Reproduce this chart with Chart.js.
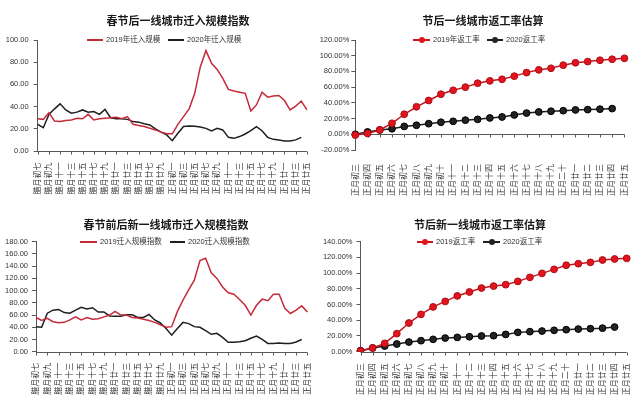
<!DOCTYPE html>
<html>
<head>
<meta charset="utf-8">
<script src="https://cdn.jsdelivr.net/npm/chart.js@4"></script>
<style>
  html, body { margin: 0; padding: 0; background: #fff; }
  #wrap { position: relative; width: 640px; height: 399px; overflow: hidden; }
  .panel { position: absolute; }
  .panel canvas { position: absolute; left: 0; top: 0; }
  .title { position: absolute; transform: translateX(-50%); white-space: nowrap;
           font: bold 11px/12px "Noto Sans CJK SC", sans-serif; color: #1a1a1a; z-index: 2; }
  .lg { position: absolute; display: flex; align-items: center; white-space: nowrap; height: 10px;
        font: 7.5px/10px "Liberation Sans", "Noto Sans CJK SC", sans-serif; color: #333; z-index: 2; }
  .sw { position: relative; display: inline-block; height: 2px; margin-right: 3px; }
  .sw i { position: absolute; left: 50%; top: 50%; width: 6px; height: 6px; margin: -3px 0 0 -3px; border-radius: 50%; }
</style>
</head>
<body>
<div id="wrap">
  <div class="panel" style="left:0;top:0;width:320px;height:200px">
    <div class="title" style="left:178px;top:14px">春节后一线城市迁入规模指数</div>
    <div class="lg" style="left:87px;top:35px"><span class="sw" style="width:16px;background:#c62a3a"></span>2019年迁入规模</div>
    <div class="lg" style="left:168px;top:35px"><span class="sw" style="width:16px;background:#1e1e1e"></span>2020年迁入规模</div>
    <canvas id="chart-tier1-in" width="320" height="200"></canvas>
  </div>
  <div class="panel" style="left:320px;top:0;width:320px;height:200px">
    <div class="title" style="left:163px;top:14px">节后一线城市返工率估算</div>
    <div class="lg" style="left:93px;top:35px"><span class="sw" style="width:17px;background:#c8141c"><i style="background:#e3141d"></i></span>2019年返工率</div>
    <div class="lg" style="left:167px;top:35px"><span class="sw" style="width:16px;background:#1e1e1e"><i style="background:#222"></i></span>2020返工率</div>
    <canvas id="chart-tier1-work" width="320" height="200"></canvas>
  </div>
  <div class="panel" style="left:0;top:200px;width:320px;height:199px">
    <div class="title" style="left:166px;top:18px">春节前后新一线城市迁入规模指数</div>
    <div class="lg" style="left:80px;top:37px"><span class="sw" style="width:17px;background:#c62a3a"></span>2019迁入规模指数</div>
    <div class="lg" style="left:170px;top:37px"><span class="sw" style="width:15px;background:#1e1e1e"></span>2020迁入规模指数</div>
    <canvas id="chart-new1-in" width="320" height="199"></canvas>
  </div>
  <div class="panel" style="left:320px;top:200px;width:320px;height:199px">
    <div class="title" style="left:160px;top:18px">节后新一线城市返工率估算</div>
    <div class="lg" style="left:97px;top:37px"><span class="sw" style="width:16px;background:#c8141c"><i style="background:#e3141d"></i></span>2019返工率</div>
    <div class="lg" style="left:163px;top:37px"><span class="sw" style="width:17px;background:#1e1e1e"><i style="background:#222"></i></span>2020返工率</div>
    <canvas id="chart-new1-work" width="320" height="199"></canvas>
  </div>
</div>

<script>
// ── Data ──────────────────────────────────────────────────────
// 腊月初七 .. 正月廿五 (49 days), labels shown every other day
const lunarDays = [
  '腊月初七', '腊月初八', '腊月初九', '腊月初十', '腊月十一', '腊月十二', '腊月十三', '腊月十四',
  '腊月十五', '腊月十六', '腊月十七', '腊月十八', '腊月十九', '腊月二十', '腊月廿一', '腊月廿二',
  '腊月廿三', '腊月廿四', '腊月廿五', '腊月廿六', '腊月廿七', '腊月廿八', '腊月廿九', '腊月三十',
  '正月初一', '正月初二', '正月初三', '正月初四', '正月初五', '正月初六', '正月初七', '正月初八',
  '正月初九', '正月初十', '正月十一', '正月十二', '正月十三', '正月十四', '正月十五', '正月十六',
  '正月十七', '正月十八', '正月十九', '正月二十', '正月廿一', '正月廿二', '正月廿三', '正月廿四',
  '正月廿五',
];

const tier1In2019 = [
  29, 28.5, 34.5, 27, 26.5, 27.5, 28, 29.5, 29, 33, 28, 29, 29.5, 30, 30.5, 29, 31, 24, 23, 22, 20.5, 19, 17, 15.5,
  15.5, 24, 31, 38, 52, 76, 90.4, 79, 73.5, 65.5, 55.5, 54, 53, 52, 36, 41.5, 53, 48.5, 49.5, 50, 45.5, 37, 40.5, 45, 37,
];
const tier1In2020 = [
  24, 21, 33, 38, 42.5, 37, 34, 35, 37, 35, 35.5, 33, 37.5, 30, 29, 29, 28.5, 26.5, 26, 24.5, 23.5, 20, 17, 14.5,
  9.3, 16, 22, 22.5, 22.2, 21.6, 20.4, 18, 20.4, 19, 12.3, 11.4, 13, 15.3, 18.3, 22, 18.3, 12.3, 10.5, 10, 9, 9, 10, 12.3, null,
];

const new1In2019 = [
  56, 51, 54.5, 49, 47.5, 48, 52, 57, 52, 56, 53, 54, 57, 60, 66, 60, 60, 56, 55, 53, 51, 48, 44, 40,
  41, 65.5, 84.5, 101, 117, 149, 153, 129, 120, 106, 96.5, 94, 85.5, 76, 60, 76, 86, 83.5, 94, 94, 71, 62.5, 68, 75, 65,
];
const new1In2020 = [
  41, 40, 63, 68, 69, 64, 63, 68, 72.5, 70, 72, 65, 65, 58.5, 58, 58, 60.5, 60.5, 56, 56, 61, 52, 47, 38,
  27, 38, 48, 46, 41, 40, 34.5, 28.5, 30, 23.5, 15.3, 15.3, 16.4, 18, 22, 25.6, 20, 13.6, 13.6, 14.2, 13.6, 13.6, 15.8, 20, null,
];

// 正月初三 .. 正月廿五
const workDays = [
  '正月初三', '正月初四', '正月初五', '正月初六', '正月初七', '正月初八', '正月初九', '正月初十',
  '正月十一', '正月十二', '正月十三', '正月十四', '正月十五', '正月十六', '正月十七', '正月十八',
  '正月十九', '正月二十', '正月廿一', '正月廿二', '正月廿三', '正月廿四', '正月廿五',
];

// 返工率, in %
const tier1Work2019 = [-1, 1, 5.5, 14, 25.5, 35, 43, 51, 56, 60, 65, 68, 70, 74, 78.5, 82, 84, 88, 91, 92.5, 94.2, 95.5, 96.7];
const tier1Work2020 = [0, 3, 5.5, 7, 10, 11.5, 13.5, 15.3, 16.5, 18, 19, 20.8, 22, 24.6, 27, 28.4, 29.3, 30, 31, 31.4, 32, 32.7, null];
const new1Work2019 = [1, 4.7, 10.6, 23, 36.5, 47.5, 57, 64, 71, 76, 81, 83.5, 85.3, 89.5, 94.6, 99.7, 104.8, 110, 112, 113.7, 116.7, 118, 118.8];
const new1Work2020 = [1.3, 4.7, 7.2, 9.8, 12.3, 14, 15.7, 17.4, 18.2, 19, 20, 20.4, 22, 24.6, 25.5, 26.3, 27.2, 28, 28.8, 29.3, 30, 31.4, null];

// ── Styling ───────────────────────────────────────────────────
const AXIS = '#595959';
const RED_LINE = '#c62a3a';
const BLACK_LINE = '#1e1e1e';

Chart.defaults.font.family = '"Liberation Sans", "Noto Sans CJK SC", sans-serif';
Chart.defaults.color = '#333';

// horizontal category axis drawn at value 0 (the 返工率 charts go below zero)
const zeroAxis = {
  id: 'zeroAxis',
  beforeDatasetsDraw(chart) {
    const { ctx, chartArea, scales: { x, y } } = chart;
    const y0 = Math.round(y.getPixelForValue(0)) + 0.5;
    ctx.save();
    ctx.strokeStyle = AXIS;
    ctx.lineWidth = 1;
    ctx.beginPath();
    ctx.moveTo(chartArea.left, y0);
    ctx.lineTo(chartArea.right, y0);
    x.ticks.forEach((t, i) => {
      if (!t.label) return;
      const px = Math.round(x.getPixelForTick(i)) + 0.5;
      ctx.moveTo(px, y0);
      ctx.lineTo(px, y0 + 3);
    });
    ctx.stroke();
    ctx.restore();
  },
};

function chartOpts(o) {
  return {
    responsive: false,
    animation: false,
    layout: { padding: { top: o.top, right: o.right, left: 0, bottom: 0 } },
    plugins: { legend: { display: false }, tooltip: { enabled: false } },
    scales: {
      x: {
        grid: { display: false },
        border: { display: false },
        afterFit: s => { s.height = o.xHeight; },
        ticks: {
          autoSkip: false, minRotation: 90, maxRotation: 90,
          padding: o.xPad, font: { size: 8 }, color: '#333',
          callback: o.xLabel,
        },
      },
      y: {
        min: o.min, max: o.max,
        afterFit: s => { s.width = o.yWidth; },
        grid: { drawOnChartArea: false, tickLength: 4, color: AXIS },
        border: { color: AXIS },
        ticks: { stepSize: o.step, padding: o.yPad, font: { size: 7.5 }, color: '#333', callback: o.yLabel },
      },
    },
  };
}

function lineSet(data, color) {
  return { data, borderColor: color, borderWidth: 1.5, pointRadius: 0, tension: 0, spanGaps: false };
}

function markerSet(data, line, fill, edge) {
  return {
    data, borderColor: line, borderWidth: 1.5, tension: 0,
    pointRadius: 3.4, pointBorderWidth: 1, pointBackgroundColor: fill, pointBorderColor: edge,
  };
}

const everyOther = (v, i) => (i % 2 ? '' : lunarDays[i]);
const allWork = (v, i) => workDays[i];
const num2 = v => v.toFixed(2);
const pct2 = v => v.toFixed(2) + '%';

new Chart(document.getElementById('chart-tier1-in'), {
  type: 'line',
  data: { labels: lunarDays, datasets: [lineSet(tier1In2019, RED_LINE), lineSet(tier1In2020, BLACK_LINE)] },
  options: chartOpts({ top: 40, right: 6.7, xHeight: 49, yWidth: 37.7, xPad: 3.5, yPad: 5, min: 0, max: 100, step: 10, xLabel: everyOther, yLabel: num2 }),
  plugins: [zeroAxis],
});

new Chart(document.getElementById('chart-tier1-work'), {
  type: 'line',
  data: {
    labels: workDays,
    datasets: [
      markerSet(tier1Work2019, '#c8141c', '#e3141d', '#a80f16'),
      markerSet(tier1Work2020, BLACK_LINE, '#222', '#000'),
    ],
  },
  options: chartOpts({ top: 40, right: 13.3, xHeight: 50, yWidth: 35.3, xPad: 6, yPad: 2, min: -20, max: 120, step: 20, xLabel: allWork, yLabel: pct2 }),
  plugins: [zeroAxis],
});

new Chart(document.getElementById('chart-new1-in'), {
  type: 'line',
  data: { labels: lunarDays, datasets: [lineSet(new1In2019, RED_LINE), lineSet(new1In2020, BLACK_LINE)] },
  options: chartOpts({ top: 41.7, right: 6.7, xHeight: 47.3, yWidth: 36, xPad: 3, yPad: 4, min: 0, max: 180, step: 20, xLabel: everyOther, yLabel: num2 }),
  plugins: [zeroAxis],
});

new Chart(document.getElementById('chart-new1-work'), {
  type: 'line',
  data: {
    labels: workDays,
    datasets: [
      markerSet(new1Work2019, '#c8141c', '#e3141d', '#a80f16'),
      markerSet(new1Work2020, BLACK_LINE, '#222', '#000'),
    ],
  },
  options: chartOpts({ top: 41.7, right: 13.3, xHeight: 47.3, yWidth: 40.5, xPad: 3.5, yPad: 4, min: 0, max: 140, step: 20, xLabel: allWork, yLabel: pct2 }),
  plugins: [zeroAxis],
});
</script>
</body>
</html>
